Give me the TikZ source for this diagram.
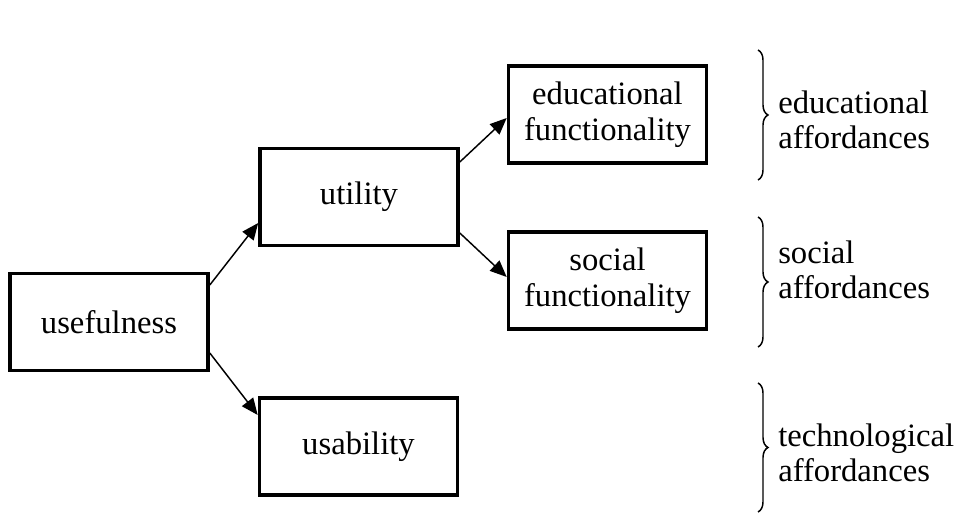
\documentclass[tikz,border=0pt]{standalone}
\usepackage{fontspec}
\setmainfont{Liberation Serif}
\usetikzlibrary{arrows.meta,calc,decorations.pathreplacing}

\begin{document}
\begin{tikzpicture}[x=0.75pt,y=-0.75pt,
  every node/.style={font=\fontsize{24.5pt}{27pt}\selectfont},
  box/.style={draw,line width=2.7pt,minimum width=148.5pt,minimum height=73pt,
              inner sep=0pt,align=center},
  arr/.style={line width=1.1pt,-{Triangle[length=12.5pt,width=10.5pt]}},
  curly/.style={line width=1.1pt,decorate,decoration={brace,amplitude=7.5pt}},
  lbl/.style={anchor=west,align=left,inner sep=0pt,
              font=\fontsize{24.5pt}{26.3pt}\selectfont}]
\useasboundingbox (0,0) rectangle (967,523);

% boxes
\node[box] (use)  at (109,322)   {usefulness};
\node[box] (util) at (359,197)   {utility};
\node[box] (usab) at (358.5,446.5) {usability};
\node[box] (edu)  at (607.5,114.5) {educational\\functionality};
\node[box] (soc)  at (607.5,280.5) {social\\functionality};

% connectors
\draw[arr] ($(use.east)+(0,-37)$) -- ($(util.west)+(0,26)$);
\draw[arr] ($(use.east)+(0,31)$)  -- ($(usab.west)+(0,-31.5)$);
\draw[arr] ($(util.east)+(0,-35)$) -- ($(edu.west)+(0,3.5)$);
\draw[arr] ($(util.east)+(0,36)$)  -- ($(soc.west)+(0,-3.5)$);

% braces and affordance labels
\coordinate (b1t) at (758,50);  \coordinate (b1b) at (758,180);
\coordinate (b2t) at (758,217); \coordinate (b2b) at (758,347);
\coordinate (b3t) at (758,383); \coordinate (b3b) at (758,512);
\draw[curly] (b1t) -- (b1b);
\draw[curly] (b2t) -- (b2b);
\draw[curly] (b3t) -- (b3b);

\node[lbl] (a1) at (778,119.5) {educational\\affordances};
\node[lbl] (a2) at (778,270)   {social\\affordances};
\node[lbl] (a3) at (778,453)   {technological\\affordances};
\end{tikzpicture}
\end{document}
